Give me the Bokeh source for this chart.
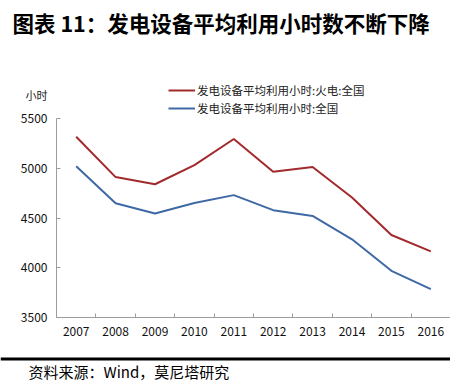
from bokeh.plotting import figure
from bokeh.models import Range1d, FixedTicker, Label, Legend, LegendItem, BoxAnnotation
from bokeh.layouts import column, row
from bokeh.embed import file_html
from bokeh.resources import INLINE

years = [2007, 2008, 2009, 2010, 2011, 2012, 2013, 2014, 2015, 2016]
thermal = [5316, 4911, 4839, 5031, 5294, 4965, 5012, 4706, 4329, 4165]
overall = [5020, 4648, 4546, 4650, 4730, 4579, 4521, 4286, 3969, 3785]
y_ticks = [3500, 4000, 4500, 5000, 5500]
name_thermal = "发电设备平均利用小时:火电:全国"
name_overall = "发电设备平均利用小时:全国"
title_text = "图表 11：发电设备平均利用小时数不断下降"
unit_text = "小时"
source_text = "资料来源：Wind，莫尼塔研究"

RED = "#A22A2C"
BLUE = "#3F69A5"
AXIS = "#9C9C9C"
FONT = "Noto Sans CJK SC"
W = 450
OVERLAP = 12
HEAD_H, MAIN_H, FOOT_H = 118, 239, 38


def bare(h, yr):
    f = figure(width=W, height=h, output_backend="svg", toolbar_location=None,
               x_range=Range1d(0, W), y_range=yr,
               x_axis_location=None, y_axis_location=None, min_border=0)
    f.outline_line_color = None
    f.grid.visible = False
    return f


# ---- header: title, unit label, legend
head = bare(HEAD_H, Range1d(HEAD_H, 0))
head.add_layout(Label(x=12, y=22, text=title_text, text_font=FONT, text_font_size="21.5px",
                      text_font_style="bold", text_color="#000000", text_baseline="middle"))
head.add_layout(Label(x=25, y=94, text=unit_text, text_font=FONT, text_font_size="11px",
                      text_color="#222222", text_baseline="middle"))
# legend renderers (same series; out of this panel's view, only their legend glyphs show)
h1 = head.line(years, thermal, line_color=RED, line_width=2)
h2 = head.line(years, overall, line_color=BLUE, line_width=2)
legend = Legend(items=[LegendItem(label=name_thermal, renderers=[h1]),
                       LegendItem(label=name_overall, renderers=[h2])],
                location=(168, 1), border_line_color=None, background_fill_alpha=0,
                glyph_width=27, glyph_height=18, label_height=18, label_standoff=2,
                padding=0, margin=0, spacing=0,
                label_text_font=FONT, label_text_font_size="11.5px",
                label_text_color="#222222")
head.add_layout(legend, "center")

# ---- main chart
p = figure(width=W, height=MAIN_H, output_backend="svg", toolbar_location=None,
           x_range=Range1d(2006.5, 2016.5), y_range=Range1d(3500, 5500),
           min_border_left=56, min_border_right=0, min_border_top=OVERLAP, min_border_bottom=28)
p.outline_line_color = None
p.xgrid.visible = False
p.ygrid.visible = False
p.border_fill_alpha = 0
p.background_fill_alpha = 0

p.line(years, thermal, line_color=RED, line_width=2)
p.line(years, overall, line_color=BLUE, line_width=2)

ax = p.xaxis[0]
ax.ticker = FixedTicker(ticks=years, minor_ticks=[y + 0.5 for y in years[:-1]])
ax.major_tick_in = 0
ax.major_tick_out = 0
ax.minor_tick_in = 4
ax.minor_tick_out = 0
ax.minor_tick_line_color = AXIS
ax.axis_line_color = AXIS
ax.major_label_text_font = FONT
ax.major_label_text_font_size = "12px"
ax.major_label_text_color = "#111111"
ax.major_label_standoff = 9

ay = p.yaxis[0]
ay.ticker = FixedTicker(ticks=y_ticks)
ay.major_tick_in = 4
ay.major_tick_out = 0
ay.minor_tick_in = 0
ay.minor_tick_out = 0
ay.major_tick_line_color = AXIS
ay.axis_line_color = AXIS
ay.major_label_text_font = FONT
ay.major_label_text_font_size = "12px"
ay.major_label_text_color = "#111111"
ay.major_label_standoff = 9

# ---- footer: rule and source
foot = bare(FOOT_H, Range1d(FOOT_H, 0))
foot.add_layout(BoxAnnotation(left=0, right=W, top=12, bottom=15,
                              fill_color="black", fill_alpha=1, line_color=None))
foot.add_layout(Label(x=28, y=26, text=source_text, text_font=FONT, text_font_size="15px",
                      text_color="#000000", text_baseline="middle"))

layout = column(row(head), row(p, margin=(-OVERLAP, 0, 0, 0)), row(foot), spacing=0)
open("out.html", "w").write(file_html(layout, INLINE))
